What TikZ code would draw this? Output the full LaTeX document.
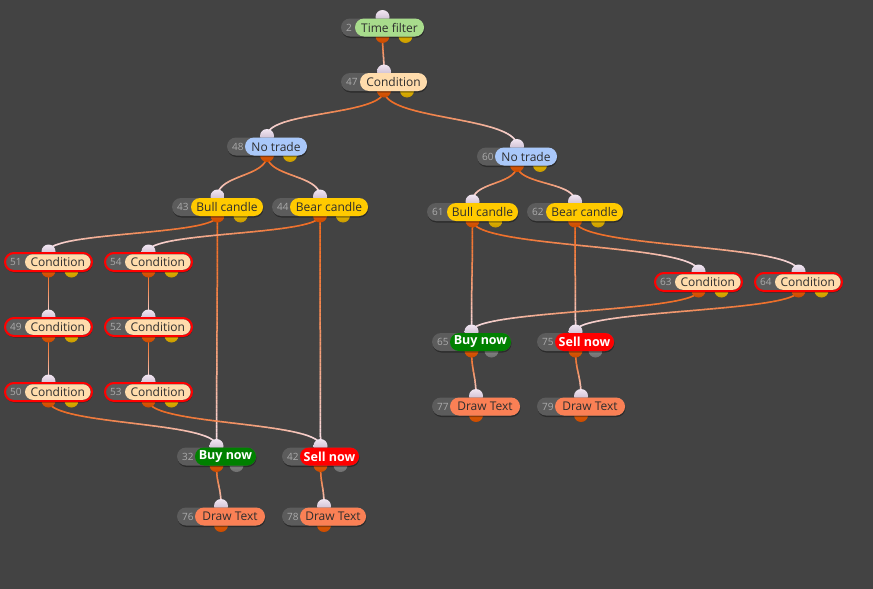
\documentclass[tikz,border=0pt]{standalone}
\usepackage{fontspec}
\setmainfont{Open Sans}
\usetikzlibrary{shapes.misc,decorations.markings,shadows}
\definecolor{bgc}{HTML}{434343}
\definecolor{badgec}{HTML}{5C5C5C}
\definecolor{idc}{HTML}{ABABAB}
\definecolor{labtext}{HTML}{2E2E2E}
\definecolor{tfc}{HTML}{A8DC8C}
\definecolor{condc}{HTML}{FFDCAC}
\definecolor{ntc}{HTML}{A9C8FA}
\definecolor{candc}{HTML}{FFCA00}
\definecolor{buyc}{HTML}{008000}
\definecolor{sellc}{HTML}{FF0000}
\definecolor{dtc}{HTML}{FA8055}
\definecolor{wstart}{HTML}{F26A1E}
\definecolor{wend}{HTML}{FAE4EE}
\definecolor{inTop}{HTML}{F2E6F2}
\definecolor{inBot}{HTML}{BDAEC4}
\definecolor{outTop}{HTML}{F06A10}
\definecolor{outBot}{HTML}{C84A00}
\definecolor{yTop}{HTML}{F8CC00}
\definecolor{yBot}{HTML}{C89A00}
\definecolor{gTop}{HTML}{9A9A9A}
\definecolor{gBot}{HTML}{6E6E6E}
\pgfdeclarelayer{bgl}\pgfdeclarelayer{wirel}
\pgfsetlayers{bgl,wirel,main}
\tikzset{
 port/.style={circle, inner sep=0pt, minimum size=14pt},
 inport/.style={port, top color=inTop, bottom color=inBot},
 outport/.style={port, top color=outTop, bottom color=outBot},
 yport/.style={port, top color=yTop, bottom color=yBot},
 gport/.style={port, top color=gTop, bottom color=gBot},
 badge/.style={rounded rectangle, fill=badgec, inner sep=0pt, minimum height=18pt,
   drop shadow={shadow xshift=0.5pt, shadow yshift=-1.5pt, opacity=0.35, fill=black}},
 lab/.style={rounded rectangle, inner sep=0pt, text=labtext, font=\fontsize{12}{14}\selectfont},
 tfl/.style={fill=tfc},
 condl/.style={fill=condc},
 ntl/.style={fill=ntc},
 candl/.style={fill=candc},
 buyl/.style={fill=buyc, text=white, font=\bfseries\fontsize{12.5}{14}\selectfont},
 selll/.style={fill=sellc, text=white, font=\bfseries\fontsize{12.5}{14}\selectfont},
 dtl/.style={fill=dtc},
 idtext/.style={inner sep=0pt, text=idc, font=\fontsize{10}{11}\selectfont},
 wire/.style={decorate, decoration={markings, mark=between positions 0 and 1 step 0.8pt with {%
   \pgfmathsetmacro\wirT{min(1,\pgfkeysvalueof{/pgf/decoration/mark info/sequence number}*0.8/\pgfdecoratedpathlength)}%
   \pgfmathsetmacro\wirP{100*\wirT*(0.35+0.65*\wirT)}%
   \draw[line width=1.5pt, draw=wend!\wirP!wstart] (-0.55pt,0pt) -- (0.55pt,0pt);}}},
}
% #1 name, #2 badge left, #3 label left, #4 label right, #5 y, #6 id, #7 text, #8 label style, #9 variant
\newcommand\gnode[9]{%
 \pgfmathsetmacro\gcx{(#2+#4)/2}%
 \pgfmathsetmacro\gbw{#4-#2}%
 \pgfmathsetmacro\glw{#4-#3}%
 \pgfmathsetmacro\glc{(#3+#4)/2}%
 \node[inport] (#1-in) at (\gcx,#5-10.5) {};
 \node[outport] (#1-out) at (\gcx,#5+8.5) {};
 \ifcase#9\relax
   \node[yport] (#1-out2) at (\gcx+23,#5+8.5) {};
   \node[badge, minimum width=\gbw] (#1) at (\gcx,#5) {};
   \node[lab,#8, minimum width=\glw, minimum height=18pt] (#1-lab) at (\glc,#5) {#7};
 \or
   \node[yport] (#1-out2) at (\gcx+23,#5+8.5) {};
   \node[badge, draw=sellc, line width=2pt, minimum width=\gbw] (#1) at (\gcx,#5) {};
   \node[lab,#8, minimum width=\glw-1.5, minimum height=15.5pt] (#1-lab) at (\glc-0.75,#5) {#7};
 \or
   \node[gport] (#1-out2) at (\gcx+20,#5+8.5) {};
   \node[badge, minimum width=\gbw] (#1) at (\gcx,#5) {};
   \node[lab,#8, minimum width=\glw, minimum height=18pt] (#1-lab) at (\glc,#5) {#7};
 \or
   \node[badge, minimum width=\gbw] (#1) at (\gcx,#5) {};
   \node[lab,#8, minimum width=\glw, minimum height=18pt] (#1-lab) at (\glc,#5) {#7};
 \fi
 \node[idtext, anchor=west] (#1-id) at (#2+5,#5) {#6};
}
\newcommand\wire[3]{\path[wire] (#1-out.center) .. controls +(0,#3) and +(0,-#3) .. (#2-in.center);}
\begin{document}
\begin{tikzpicture}[x=1pt,y=-1pt]
\useasboundingbox (0,0) rectangle (873,589);
\begin{pgfonlayer}{bgl}
\fill[bgc] (0,0) rectangle (873,589);
\end{pgfonlayer}
\gnode{n2}{341}{355}{424}{27.5}{2}{Time filter}{tfl}{0}
\gnode{n47}{341}{360}{427}{82}{47}{Condition}{condl}{0}
\gnode{n48}{227}{245}{307}{146.5}{48}{No trade}{ntl}{0}
\gnode{n60}{477}{495}{557}{156.5}{60}{No trade}{ntl}{0}
\gnode{n43}{172}{191}{263}{207}{43}{Bull candle}{candl}{0}
\gnode{n44}{272}{290}{368}{207}{44}{Bear candle}{candl}{0}
\gnode{n61}{427}{447}{518}{212}{61}{Bull candle}{candl}{0}
\gnode{n62}{527}{546}{623}{212}{62}{Bear candle}{candl}{0}
\gnode{n51}{5}{25}{92}{262}{51}{Condition}{condl}{1}
\gnode{n54}{105}{125}{192}{262}{54}{Condition}{condl}{1}
\gnode{n49}{5}{25}{92}{327}{49}{Condition}{condl}{1}
\gnode{n52}{105}{125}{192}{327}{52}{Condition}{condl}{1}
\gnode{n50}{5}{25}{92}{392}{50}{Condition}{condl}{1}
\gnode{n53}{105}{125}{192}{392}{53}{Condition}{condl}{1}
\gnode{n63}{655}{675}{742}{282}{63}{Condition}{condl}{1}
\gnode{n64}{755}{775}{842}{282}{64}{Condition}{condl}{1}
\gnode{n65}{432}{450}{511}{342}{65}{Buy now}{buyl}{2}
\gnode{n75}{537}{555}{614}{342}{75}{Sell now}{selll}{2}
\gnode{n77}{432}{450}{520}{406.5}{77}{Draw Text}{dtl}{3}
\gnode{n79}{537}{555}{625}{406.5}{79}{Draw Text}{dtl}{3}
\gnode{n32}{177}{195}{256}{456.5}{32}{Buy now}{buyl}{2}
\gnode{n42}{282}{300}{359}{456.5}{42}{Sell now}{selll}{2}
\gnode{n76}{177}{195}{265}{516.5}{76}{Draw Text}{dtl}{3}
\gnode{n78}{282}{300}{366}{516.5}{78}{Draw Text}{dtl}{3}
\begin{pgfonlayer}{wirel}
\wire{n2}{n47}{15}
\wire{n47}{n48}{25}
\wire{n47}{n60}{30}
\wire{n48}{n43}{22}
\wire{n48}{n44}{22}
\wire{n60}{n61}{20}
\wire{n60}{n62}{20}
\wire{n43}{n51}{20}
\wire{n43}{n32}{60}
\wire{n44}{n54}{20}
\wire{n44}{n42}{60}
\wire{n51}{n49}{20}
\wire{n49}{n50}{20}
\wire{n54}{n52}{20}
\wire{n52}{n53}{20}
\wire{n50}{n32}{25}
\wire{n53}{n42}{25}
\wire{n61}{n65}{60}
\wire{n61}{n63}{28}
\wire{n62}{n75}{60}
\wire{n62}{n64}{28}
\wire{n63}{n65}{22}
\wire{n64}{n75}{22}
\wire{n65}{n77}{20}
\wire{n75}{n79}{20}
\wire{n32}{n76}{20}
\wire{n42}{n78}{20}
\end{pgfonlayer}
\end{tikzpicture}
\end{document}
